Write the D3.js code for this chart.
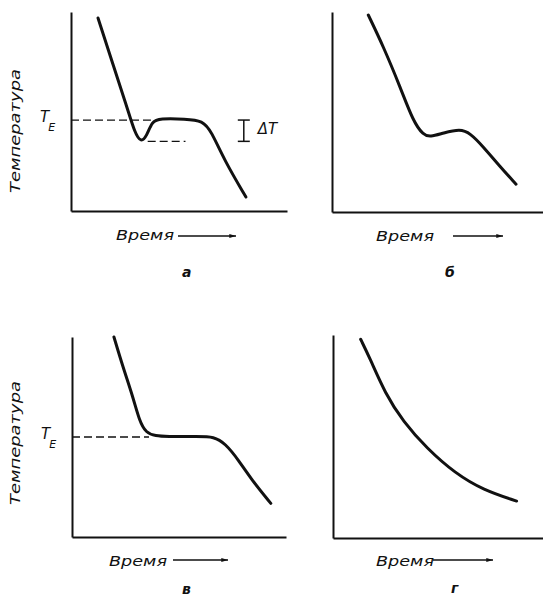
<!DOCTYPE html>
<html>
<head>
<meta charset="utf-8">
<script src="https://cdn.jsdelivr.net/npm/d3@7"></script>
<style>
  body { margin: 0; background: #fff; }
  text { font-family: "DejaVu Sans", sans-serif; font-style: italic; fill: #111; }
</style>
</head>
<body>
<svg id="chart" width="543" height="599"></svg>
<script>
// cooling curves, time / temperature in arbitrary units (0..10)
var timeA = [1.25, 1.9, 2.6, 2.96, 3.24, 3.5, 3.75, 4.1, 5.3, 6.1, 6.5, 7.1, 8.1];
var tempA = [9.7, 7.5, 5.2, 3.9, 3.45, 3.75, 4.5, 4.65, 4.62, 4.55, 4.0, 2.55, 0.7];
var teA = 4.57, lowA = 3.5;

var timeB = [1.68, 2.38, 3.15, 3.77, 4.23, 4.54, 5.15, 5.93, 6.39, 7.0, 7.78, 8.52];
var tempB = [9.85, 8.27, 6.27, 4.5, 3.85, 3.75, 3.95, 4.15, 3.95, 3.27, 2.27, 1.39];

var timeC = [1.96, 2.38, 2.85, 3.15, 3.46, 3.92, 4.38, 5.93, 6.62, 7.16, 7.78, 8.4, 9.29];
var tempC = [10.0, 8.5, 7.0, 5.8, 5.2, 5.05, 5.02, 5.02, 5.02, 4.68, 3.85, 2.85, 1.68];
var teC = 5.0;

var timeD = [1.28, 1.71, 2.41, 3.25, 4.34, 5.65, 6.96, 8.5];
var tempD = [9.79, 8.85, 7.13, 5.73, 4.42, 3.19, 2.36, 1.82];

var panelLabels = ["а", "б", "в", "г"];
var xTitle = "Время";
var yTitle = "Температура";

function zip(xs, ys) {
  return xs.map(function(x, i) { return {t: x, v: ys[i]}; });
}

var panels = [
  {left: 71,  right: 287, top: 12,  bottom: 211, data: zip(timeA, tempA), te: teA, low: lowA, yTitle: true,
   titleX: 116, titleY: 240, arrow: [178, 236, 236], labelX: 182, labelY: 277, yTitleY: 131},
  {left: 332, right: 548, top: 12,  bottom: 212, data: zip(timeB, tempB), te: null, yTitle: false,
   titleX: 376, titleY: 241, arrow: [453, 503, 236], labelX: 445, labelY: 277},
  {left: 72,  right: 286, top: 337, bottom: 537, data: zip(timeC, tempC), te: teC, yTitle: true,
   titleX: 109, titleY: 566, arrow: [173, 228, 560], labelX: 182, labelY: 594, yTitleY: 443},
  {left: 333, right: 549, top: 335, bottom: 538, data: zip(timeD, tempD), te: null, yTitle: false,
   titleX: 376, titleY: 566, arrow: [433, 493, 560], labelX: 451, labelY: 593}
];

var svg = d3.select("#chart");

svg.append("defs").append("marker")
  .attr("id", "arr")
  .attr("viewBox", "0 0 10 6")
  .attr("refX", 10).attr("refY", 3)
  .attr("markerWidth", 10).attr("markerHeight", 4)
  .attr("markerUnits", "userSpaceOnUse")
  .attr("orient", "auto")
  .append("path").attr("d", "M0,0 L10,3 L0,6 Z").attr("fill", "#111");

panels.forEach(function(p, idx) {
  var x = d3.scaleLinear().domain([0, 10]).range([p.left, p.right]);
  var y = d3.scaleLinear().domain([0, 10]).range([p.bottom, p.top]);
  var g = svg.append("g");

  // axes, no ticks
  g.append("g")
    .attr("transform", "translate(0," + p.bottom + ")")
    .call(d3.axisBottom(x).ticks(0).tickSizeOuter(0))
    .select(".domain").attr("stroke", "#111").attr("stroke-width", 2);
  g.append("g")
    .attr("transform", "translate(" + p.left + ",0)")
    .call(d3.axisLeft(y).ticks(0).tickSizeOuter(0))
    .select(".domain").attr("stroke", "#111").attr("stroke-width", 2);

  var line = d3.line()
    .x(function(d) { return x(d.t); })
    .y(function(d) { return y(d.v); })
    .curve(d3.curveBasis);

  g.append("path")
    .datum(p.data)
    .attr("fill", "none")
    .attr("stroke", "#111")
    .attr("stroke-width", 3)
    .attr("stroke-linecap", "round")
    .attr("d", line);

  // eutectic temperature line
  if (p.te !== null) {
    g.append("line")
      .attr("x1", x(0)).attr("x2", x(idx === 0 ? 3.7 : 3.6))
      .attr("y1", y(p.te)).attr("y2", y(p.te))
      .attr("stroke", "#111").attr("stroke-width", 1.3)
      .attr("stroke-dasharray", "8,4");
    var te = g.append("text")
      .attr("x", p.left - 31).attr("y", y(p.te) + 2)
      .style("font-size", "15px");
    te.append("tspan").text("T");
    te.append("tspan").attr("dy", 9).attr("dx", -1).style("font-size", "11px").text("E");
  }

  // undercooling marker for panel a
  if (p.low !== undefined) {
    g.append("line")
      .attr("x1", x(3.55)).attr("x2", x(5.3))
      .attr("y1", y(p.low)).attr("y2", y(p.low))
      .attr("stroke", "#111").attr("stroke-width", 1.3)
      .attr("stroke-dasharray", "8,4");
    var bx = x(8.0);
    g.append("line").attr("x1", bx).attr("x2", bx).attr("y1", y(p.te)).attr("y2", y(p.low))
      .attr("stroke", "#111").attr("stroke-width", 1.5);
    [p.te, p.low].forEach(function(v) {
      g.append("line").attr("x1", bx - 6).attr("x2", bx + 6).attr("y1", y(v)).attr("y2", y(v))
        .attr("stroke", "#111").attr("stroke-width", 1.5);
    });
    g.append("text").attr("x", bx + 14).attr("y", y(p.low) - 7)
      .style("font-size", "15px").text("ΔT");
  }

  // axis titles
  g.append("text")
    .attr("x", p.titleX).attr("y", p.titleY)
    .attr("textLength", 58)
    .attr("lengthAdjust", "spacingAndGlyphs")
    .style("font-size", "14px")
    .text(xTitle);
  g.append("line")
    .attr("x1", p.arrow[0]).attr("x2", p.arrow[1])
    .attr("y1", p.arrow[2]).attr("y2", p.arrow[2])
    .attr("stroke", "#111").attr("stroke-width", 1.3)
    .attr("marker-end", "url(#arr)");

  if (p.yTitle) {
    g.append("text")
      .attr("transform", "translate(20," + p.yTitleY + ") rotate(-90)")
      .attr("text-anchor", "middle")
      .attr("textLength", 124)
      .attr("lengthAdjust", "spacingAndGlyphs")
      .style("font-size", "14px")
      .text(yTitle);
  }

  g.append("text")
    .attr("x", p.labelX).attr("y", p.labelY)
    .style("font-size", "14px")
    .style("font-weight", "bold")
    .text(panelLabels[idx]);
});
</script>
</body>
</html>
